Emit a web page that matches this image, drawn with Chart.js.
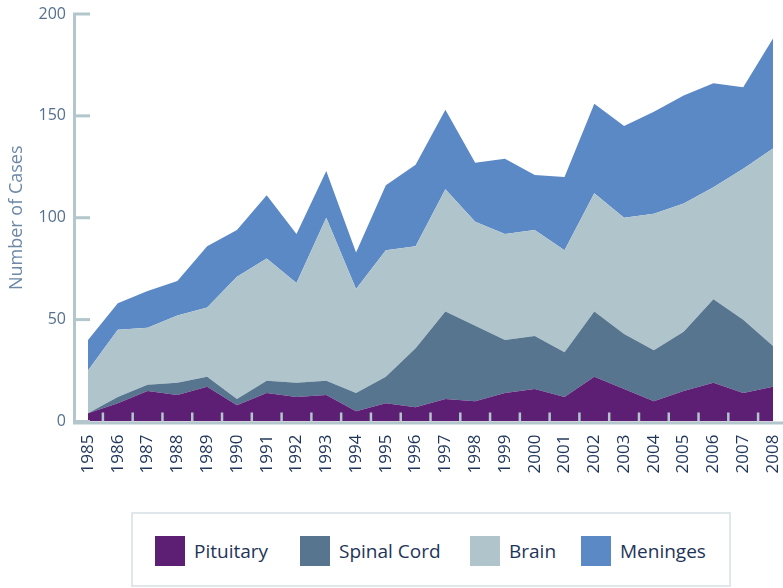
<!DOCTYPE html>
<html>
<head>
<meta charset="utf-8">
<script src="https://cdn.jsdelivr.net/npm/chart.js@4.4.1/dist/chart.umd.min.js"></script>
<style>
  html, body { margin: 0; padding: 0; background: #ffffff; overflow: hidden; }
  #wrap { position: relative; width: 783px; height: 588px; }
  #chartBox { position: absolute; left: 0; top: 0; width: 783px; height: 505px; }
  #legend {
    position: absolute; left: 131px; top: 512px; width: 596px; height: 71px;
    border: 2px solid #dfe7ea; box-sizing: content-box;
    font-family: "Open Sans", sans-serif; font-size: 19px; color: #1e3459;
  }
  .item { position: absolute; top: 22px; height: 30px; display: flex; align-items: center; }
  .sw { width: 30px; height: 30px; margin-right: 9px; }
</style>
</head>
<body>
<div id="wrap">
  <div id="chartBox"><canvas id="c" width="783" height="505"></canvas></div>
  <div id="legend"></div>
</div>
<script>
// ---- data ----
const years = [1985,1986,1987,1988,1989,1990,1991,1992,1993,1994,1995,1996,1997,1998,1999,2000,2001,2002,2003,2004,2005,2006,2007,2008];
const seriesNames = ["Pituitary", "Spinal Cord", "Brain", "Meninges"];
const pituitary  = [4, 9,15,13,17, 8,14,12,13, 5, 9, 7,11,10,14,16,12,22,16,10,15,19,14,17];
const spinalCord = [0, 3, 3, 6, 5, 3, 6, 7, 7, 9,13,29,43,37,26,26,22,32,27,25,29,41,36,20];
const brain      = [21,33,28,33,34,60,60,49,80,51,62,50,60,51,52,52,50,58,57,67,63,55,74,97];
const meninges   = [15,13,18,17,30,23,31,24,23,18,32,40,39,29,37,27,36,44,45,50,53,51,40,54];
const yTicks = [0, 50, 100, 150, 200];

const colors = ["#5c1f74", "#57758f", "#b0c5cb", "#5b89c6"];
const axisColor = "#b3c6cc";
const seriesValues = [pituitary, spinalCord, brain, meninges];

const datasets = seriesValues.map((vals, i) => ({
  label: seriesNames[i],
  data: vals.map((v, j) => ({ x: years[j], y: v })),
  backgroundColor: colors[i],
  borderColor: colors[i],
  borderWidth: 0,
  pointRadius: 0,
  pointHoverRadius: 0,
  tension: 0,
  fill: i === 0 ? 'origin' : '-1'
}));

const axesPlugin = {
  id: 'axesPlugin',
  afterDatasetsDraw(chart) {
    const { ctx, chartArea, scales } = chart;
    const x = scales.x, y = scales.y;
    const base = y.getPixelForValue(0);
    ctx.save();
    ctx.strokeStyle = axisColor;
    ctx.lineCap = 'butt';
    // x tick marks between categories (inside, upward)
    ctx.lineWidth = 2.5;
    for (let i = 0; i < years.length - 1; i++) {
      const px = (x.getPixelForValue(years[i]) + x.getPixelForValue(years[i + 1])) / 2;
      ctx.beginPath();
      ctx.moveTo(px, base);
      ctx.lineTo(px, base - 9);
      ctx.stroke();
    }
    // y tick marks (inside, rightwards)
    ctx.lineWidth = 3;
    yTicks.forEach(t => {
      const py = y.getPixelForValue(t);
      ctx.beginPath();
      ctx.moveTo(chartArea.left, py);
      ctx.lineTo(chartArea.left + 17, py);
      ctx.stroke();
    });
    // axis lines
    ctx.beginPath();
    ctx.moveTo(chartArea.left + 1.5, chartArea.top - 1);
    ctx.lineTo(chartArea.left + 1.5, base + 1.5);
    ctx.lineTo(chartArea.right, base + 1.5);
    ctx.stroke();
    ctx.restore();
  }
};

new Chart(document.getElementById('c'), {
  type: 'line',
  data: { datasets },
  plugins: [axesPlugin],
  options: {
    responsive: false,
    animation: false,
    layout: { padding: { top: 14, right: 0, left: 0, bottom: 0 } },
    plugins: { legend: { display: false }, tooltip: { enabled: false } },
    scales: {
      x: {
        type: 'linear',
        min: 1984.496,
        max: 2008.336,
        afterBuildTicks(scale) { scale.ticks = years.map(v => ({ value: v })); },
        afterFit(scale) { scale.height = 83.5; scale.paddingRight = 0; scale.paddingLeft = 0; },
        grid: { display: false, drawTicks: false },
        border: { display: false },
        ticks: {
          autoSkip: false,
          minRotation: 90,
          maxRotation: 90,
          padding: 13,
          color: "#1e3459",
          font: { family: "Open Sans", size: 17 },
          callback: (v) => String(v)
        }
      },
      y: {
        stacked: true,
        min: 0,
        max: 200,
        afterBuildTicks(scale) { scale.ticks = yTicks.map(v => ({ value: v })); },
        afterFit(scale) { scale.width = 73; scale.paddingTop = 0; scale.paddingBottom = 0; },
        grid: { display: false, drawTicks: false },
        border: { display: false },
        ticks: {
          padding: 7,
          color: "#56708f",
          font: { family: "Open Sans", size: 16 }
        },
        title: {
          display: true,
          text: "Number of Cases",
          color: "#6d88a8",
          font: { family: "Open Sans", size: 18 },
          padding: { top: 6, bottom: 0 }
        }
      }
    }
  }
});

// HTML legend built from the series names / colours
const legendPos = [22, 167, 337, 448];
const legend = document.getElementById('legend');
seriesNames.forEach((name, i) => {
  const d = document.createElement('div');
  d.className = 'item';
  d.style.left = legendPos[i] + 'px';
  d.innerHTML = '<div class="sw" style="background:' + colors[i] + '"></div><span>' + name + '</span>';
  legend.appendChild(d);
});
</script>
</body>
</html>
